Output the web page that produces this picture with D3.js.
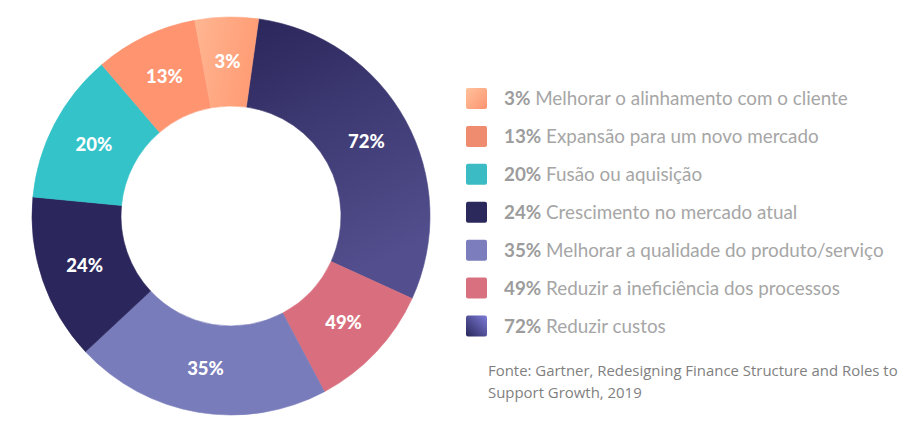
<!DOCTYPE html>
<html>
<head>
<meta charset="utf-8">
<script src="https://cdn.jsdelivr.net/npm/d3@7"></script>
<style>
  html, body { margin: 0; padding: 0; background: #fff; }
  svg { display: block; }
</style>
</head>
<body>
<div id="chart"></div>
<script>
// legend order (top to bottom)
var percents = [3, 13, 20, 24, 35, 49, 72];
var labels = [
    "Melhorar o alinhamento com o cliente",
    "Expansão para um novo mercado",
    "Fusão ou aquisição",
    "Crescimento no mercado atual",
    "Melhorar a qualidade do produto/serviço",
    "Reduzir a ineficiência dos processos",
    "Reduzir custos"
];
// slice sizes as drawn (degrees), they are not proportional to the percents
var arcSpans = [18.5, 30, 44, 48.5, 75, 37.5, 106.5];
var colors = ["url(#g3)", "#fe9470", "#33c3c9", "#2b275c", "#797cbb", "#d96f7e", "url(#g72)"];
var swatches = ["url(#s3)", "#ef8b6e", "#3bbcc4", "#2b285c", "#7b7dbd", "#d9707f", "url(#s72)"];
var sourceLines = ["Fonte: Gartner, Redesigning Finance Structure and Roles to",
                   "Support Growth, 2019"];

var width = 912, height = 437,
    cx = 231, cy = 216,
    outerR = 199, innerR = 110,
    startDeg = 8;

var svg = d3.select('#chart').append('svg')
    .attr('width', width)
    .attr('height', height);

var defs = svg.append('defs');
function grad(id, x1, y1, x2, y2, c1, c2) {
    var g = defs.append('linearGradient').attr('id', id)
        .attr('x1', x1).attr('y1', y1).attr('x2', x2).attr('y2', y2);
    g.append('stop').attr('offset', '0%').attr('stop-color', c1);
    g.append('stop').attr('offset', '100%').attr('stop-color', c2);
}
grad('g72', '0', '0', '0.3', '1', '#2b275b', '#534f8e');
grad('g3', '0', '0', '1', '0.3', '#ffb692', '#ff9c75');
grad('s3', '0', '0', '1', '1', '#ffc29c', '#fc9470');
grad('s72', '1', '0', '0', '1', '#7d7bd8', '#29275a');

var items = percents.map(function(p, i) {
    return {pct: p, label: labels[i], span: arcSpans[i], color: colors[i], swatch: swatches[i]};
});

// slices run clockwise from the top: 72, 49, 35 ... 3
var pie = d3.pie()
    .sort(null)
    .value(function(d) { return d.span; })
    .startAngle(startDeg * Math.PI / 180)
    .endAngle((startDeg + 360) * Math.PI / 180);

var arc = d3.arc().innerRadius(innerR).outerRadius(outerR);

var g = svg.append('g').attr('transform', 'translate(' + cx + ',' + cy + ')');

var slices = g.selectAll('g.slice')
    .data(pie(items.slice().reverse()))
    .enter().append('g')
    .attr('class', 'slice');

slices.append('path')
    .attr('d', arc)
    .attr('fill', function(d) { return d.data.color; })
    .attr('stroke', function(d) { return d.data.color; })
    .attr('stroke-width', 0.6);

slices.append('text')
    .attr('transform', function(d) { return 'translate(' + arc.centroid(d) + ')'; })
    .attr('text-anchor', 'middle')
    .attr('dy', '0.36em')
    .attr('fill', '#fff')
    .style('font-family', 'Lato, sans-serif')
    .style('font-weight', 900)
    .style('font-size', '18.5px')
    .text(function(d) { return d.data.pct + '%'; });

// legend
var yScale = d3.scalePoint()
    .domain(d3.range(items.length))
    .range([98.5, 326]);

var legend = svg.append('g').attr('class', 'legend');
var rows = legend.selectAll('g.row')
    .data(items)
    .enter().append('g')
    .attr('class', 'row')
    .attr('transform', function(d, i) { return 'translate(466,' + yScale(i) + ')'; });

rows.append('rect')
    .attr('x', 0).attr('y', -10.5)
    .attr('width', 21).attr('height', 21)
    .attr('rx', 2)
    .attr('fill', function(d) { return d.swatch; });

var texts = rows.append('text')
    .attr('x', 38)
    .attr('dy', '0.36em')
    .style('font-family', 'Lato, sans-serif')
    .style('font-size', '18px');

texts.append('tspan')
    .style('font-weight', 700)
    .attr('fill', '#9c9c9c')
    .text(function(d) { return d.pct + '%'; });
texts.append('tspan')
    .attr('fill', '#a6a6a6')
    .text(function(d) { return ' ' + d.label; });

// fit the first row to the width measured in the picture
var first = texts.node();
var fs = 18 * 344 / first.getComputedTextLength();
texts.style('font-size', fs + 'px');

// source note
var src = svg.append('g').attr('class', 'source');
var srcText = src.selectAll('text')
    .data(sourceLines)
    .enter().append('text')
    .attr('x', 488)
    .attr('y', function(d, i) { return 376 + i * 21.7; })
    .attr('fill', '#7f7f7f')
    .style('font-family', '"Open Sans", sans-serif')
    .style('font-size', '15px')
    .text(function(d) { return d; });
var sfs = 15 * 410 / srcText.node().getComputedTextLength();
srcText.style('font-size', sfs + 'px');
</script>
</body>
</html>
